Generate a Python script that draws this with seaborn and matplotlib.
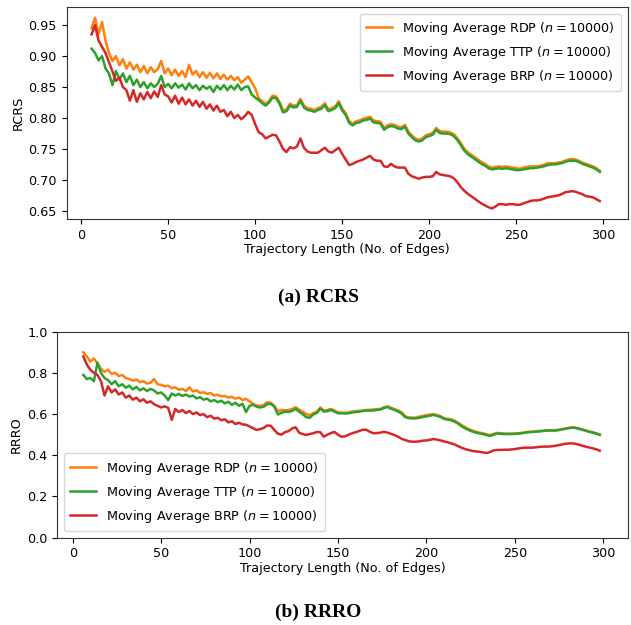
import numpy as np
import pandas as pd
import seaborn as sns
import matplotlib
matplotlib.use("Agg")
import matplotlib.pyplot as plt

# ---------------- data ----------------
x_len = list(range(6, 299, 2))  # trajectory length (no. of edges)

rcrs_rdp = [
    0.945, 0.962, 0.935, 0.955, 0.925, 0.905, 0.892, 0.900, 0.885, 0.895,
    0.880, 0.890, 0.878, 0.886, 0.874, 0.884, 0.872, 0.882, 0.874, 0.879,
    0.892, 0.872, 0.880, 0.869, 0.878, 0.868, 0.876, 0.866, 0.886, 0.870,
    0.876, 0.866, 0.874, 0.865, 0.873, 0.864, 0.872, 0.863, 0.870, 0.862,
    0.868, 0.861, 0.866, 0.857, 0.862, 0.867, 0.858, 0.848, 0.832, 0.827,
    0.823, 0.828, 0.836, 0.835, 0.826, 0.812, 0.814, 0.823, 0.820, 0.821,
    0.831, 0.820, 0.816, 0.815, 0.813, 0.816, 0.818, 0.824, 0.814, 0.816,
    0.819, 0.827, 0.815, 0.808, 0.795, 0.791, 0.795, 0.796, 0.799, 0.800,
    0.802, 0.796, 0.795, 0.794, 0.784, 0.788, 0.790, 0.789, 0.786, 0.785,
    0.789, 0.778, 0.772, 0.767, 0.765, 0.767, 0.772, 0.774, 0.776, 0.784,
    0.779, 0.778, 0.778, 0.777, 0.774, 0.768, 0.760, 0.751, 0.745, 0.741,
    0.737, 0.733, 0.729, 0.726, 0.722, 0.720, 0.721, 0.722, 0.721, 0.722,
    0.721, 0.720, 0.719, 0.718, 0.720, 0.721, 0.722, 0.722, 0.722, 0.723,
    0.725, 0.727, 0.727, 0.727, 0.728, 0.729, 0.731, 0.733, 0.734, 0.733,
    0.731, 0.728, 0.726, 0.724, 0.722, 0.719, 0.715,
]
rcrs_ttp = [
    0.912, 0.905, 0.893, 0.900, 0.880, 0.872, 0.853, 0.876, 0.862, 0.872,
    0.858, 0.868, 0.853, 0.862, 0.850, 0.858, 0.848, 0.856, 0.850, 0.855,
    0.868, 0.850, 0.855, 0.848, 0.856, 0.849, 0.854, 0.846, 0.856, 0.848,
    0.853, 0.845, 0.852, 0.847, 0.851, 0.842, 0.852, 0.846, 0.853, 0.845,
    0.852, 0.846, 0.854, 0.845, 0.850, 0.851, 0.838, 0.833, 0.829, 0.824,
    0.820, 0.825, 0.833, 0.832, 0.823, 0.809, 0.811, 0.820, 0.817, 0.818,
    0.828, 0.817, 0.813, 0.812, 0.810, 0.813, 0.815, 0.821, 0.811, 0.813,
    0.816, 0.824, 0.812, 0.805, 0.792, 0.788, 0.792, 0.793, 0.796, 0.797,
    0.799, 0.793, 0.792, 0.791, 0.781, 0.785, 0.787, 0.786, 0.783, 0.782,
    0.786, 0.775, 0.769, 0.764, 0.762, 0.764, 0.769, 0.771, 0.773, 0.781,
    0.776, 0.775, 0.775, 0.774, 0.771, 0.765, 0.757, 0.748, 0.742, 0.738,
    0.734, 0.730, 0.726, 0.723, 0.719, 0.717, 0.718, 0.719, 0.718, 0.719,
    0.718, 0.717, 0.716, 0.716, 0.717, 0.718, 0.719, 0.719, 0.720, 0.721,
    0.722, 0.724, 0.725, 0.725, 0.726, 0.727, 0.729, 0.731, 0.731, 0.731,
    0.729, 0.726, 0.724, 0.722, 0.720, 0.717, 0.713,
]
rcrs_brp = [
    0.935, 0.950, 0.925, 0.915, 0.905, 0.890, 0.875, 0.860, 0.865, 0.850,
    0.845, 0.828, 0.845, 0.826, 0.840, 0.830, 0.842, 0.832, 0.843, 0.834,
    0.853, 0.838, 0.835, 0.825, 0.836, 0.823, 0.833, 0.822, 0.830, 0.820,
    0.828, 0.818, 0.826, 0.815, 0.822, 0.812, 0.820, 0.810, 0.813, 0.803,
    0.810, 0.800, 0.805, 0.798, 0.803, 0.810, 0.805, 0.790, 0.777, 0.774,
    0.767, 0.770, 0.773, 0.772, 0.762, 0.750, 0.745, 0.753, 0.751, 0.754,
    0.767, 0.752, 0.746, 0.744, 0.744, 0.744, 0.748, 0.752, 0.746, 0.744,
    0.748, 0.752, 0.742, 0.733, 0.724, 0.726, 0.729, 0.731, 0.733, 0.736,
    0.739, 0.733, 0.731, 0.731, 0.722, 0.721, 0.726, 0.722, 0.720, 0.720,
    0.720, 0.710, 0.706, 0.704, 0.702, 0.704, 0.705, 0.705, 0.706, 0.713,
    0.709, 0.708, 0.707, 0.706, 0.703, 0.697, 0.689, 0.683, 0.678, 0.674,
    0.670, 0.666, 0.662, 0.659, 0.656, 0.654, 0.657, 0.661, 0.661, 0.660,
    0.661, 0.661, 0.660, 0.660, 0.662, 0.664, 0.666, 0.667, 0.667, 0.668,
    0.670, 0.672, 0.673, 0.674, 0.675, 0.677, 0.680, 0.681, 0.682, 0.681,
    0.679, 0.677, 0.674, 0.673, 0.672, 0.669, 0.666,
]

rrro_rdp = [
    0.900, 0.880, 0.855, 0.870, 0.845, 0.820, 0.805, 0.815, 0.795, 0.800,
    0.785, 0.790, 0.775, 0.770, 0.762, 0.768, 0.755, 0.760, 0.748, 0.752,
    0.770, 0.745, 0.742, 0.735, 0.738, 0.726, 0.730, 0.718, 0.722, 0.712,
    0.730, 0.710, 0.715, 0.702, 0.706, 0.698, 0.702, 0.690, 0.694, 0.686,
    0.688, 0.680, 0.684, 0.675, 0.680, 0.668, 0.674, 0.662, 0.650, 0.642,
    0.640, 0.645, 0.658, 0.655, 0.640, 0.615, 0.620, 0.618, 0.620, 0.625,
    0.633, 0.622, 0.612, 0.600, 0.595, 0.605, 0.612, 0.632, 0.618, 0.620,
    0.625, 0.618, 0.608, 0.607, 0.606, 0.608, 0.612, 0.614, 0.616, 0.618,
    0.620, 0.621, 0.622, 0.624, 0.625, 0.633, 0.638, 0.631, 0.624, 0.618,
    0.608, 0.590, 0.584, 0.583, 0.583, 0.588, 0.591, 0.595, 0.598, 0.600,
    0.596, 0.590, 0.580, 0.577, 0.575, 0.568, 0.557, 0.546, 0.536, 0.527,
    0.520, 0.514, 0.510, 0.507, 0.502, 0.498, 0.504, 0.509, 0.507, 0.506,
    0.505, 0.505, 0.506, 0.507, 0.509, 0.512, 0.514, 0.515, 0.517, 0.518,
    0.519, 0.521, 0.522, 0.522, 0.523, 0.526, 0.529, 0.532, 0.535, 0.535,
    0.531, 0.526, 0.521, 0.516, 0.512, 0.507, 0.501,
]
rrro_ttp = [
    0.790, 0.770, 0.775, 0.760, 0.850, 0.800, 0.775, 0.765, 0.745, 0.760,
    0.735, 0.745, 0.728, 0.738, 0.720, 0.732, 0.715, 0.725, 0.712, 0.722,
    0.715, 0.700, 0.705, 0.690, 0.668, 0.700, 0.690, 0.698, 0.688, 0.695,
    0.685, 0.690, 0.676, 0.682, 0.670, 0.675, 0.662, 0.668, 0.658, 0.665,
    0.652, 0.660, 0.645, 0.655, 0.640, 0.650, 0.610, 0.640, 0.645, 0.636,
    0.632, 0.636, 0.648, 0.650, 0.636, 0.598, 0.606, 0.612, 0.610, 0.615,
    0.626, 0.612, 0.600, 0.585, 0.582, 0.598, 0.605, 0.627, 0.612, 0.614,
    0.620, 0.612, 0.604, 0.604, 0.603, 0.604, 0.608, 0.610, 0.612, 0.615,
    0.617, 0.617, 0.618, 0.620, 0.622, 0.630, 0.634, 0.626, 0.620, 0.612,
    0.603, 0.585, 0.580, 0.579, 0.579, 0.582, 0.586, 0.589, 0.592, 0.596,
    0.591, 0.586, 0.576, 0.573, 0.570, 0.563, 0.553, 0.540, 0.530, 0.522,
    0.515, 0.510, 0.506, 0.503, 0.498, 0.494, 0.500, 0.506, 0.504, 0.503,
    0.503, 0.503, 0.504, 0.505, 0.507, 0.510, 0.512, 0.513, 0.515, 0.516,
    0.518, 0.520, 0.520, 0.520, 0.521, 0.524, 0.528, 0.531, 0.534, 0.533,
    0.529, 0.524, 0.519, 0.514, 0.510, 0.505, 0.499,
]
rrro_brp = [
    0.880, 0.840, 0.815, 0.800, 0.790, 0.760, 0.690, 0.735, 0.705, 0.720,
    0.695, 0.705, 0.680, 0.690, 0.670, 0.680, 0.662, 0.672, 0.655, 0.662,
    0.648, 0.640, 0.632, 0.638, 0.630, 0.572, 0.625, 0.610, 0.620, 0.605,
    0.615, 0.600, 0.608, 0.595, 0.600, 0.585, 0.592, 0.578, 0.582, 0.570,
    0.575, 0.560, 0.565, 0.552, 0.558, 0.550, 0.548, 0.540, 0.531, 0.523,
    0.527, 0.533, 0.545, 0.543, 0.523, 0.505, 0.500, 0.512, 0.517, 0.530,
    0.536, 0.510, 0.503, 0.499, 0.503, 0.507, 0.513, 0.512, 0.490, 0.500,
    0.508, 0.513, 0.500, 0.490, 0.492, 0.500, 0.507, 0.512, 0.518, 0.524,
    0.524, 0.514, 0.507, 0.508, 0.510, 0.514, 0.510, 0.504, 0.498, 0.490,
    0.480, 0.474, 0.468, 0.466, 0.466, 0.468, 0.471, 0.472, 0.475, 0.479,
    0.476, 0.472, 0.467, 0.463, 0.458, 0.452, 0.444, 0.436, 0.430, 0.425,
    0.421, 0.419, 0.417, 0.414, 0.411, 0.416, 0.424, 0.426, 0.426, 0.427,
    0.427, 0.428, 0.430, 0.433, 0.436, 0.437, 0.437, 0.437, 0.439, 0.441,
    0.442, 0.442, 0.443, 0.445, 0.448, 0.451, 0.455, 0.457, 0.458, 0.456,
    0.452, 0.447, 0.442, 0.438, 0.434, 0.429, 0.422,
]

methods = ["RDP", "TTP", "BRP"]
labels = [f"Moving Average {m} ($n = 10000$)" for m in methods]
colors = ["#ff7f0e", "#2ca02c", "#d62728"]
captions = ["(a) RCRS", "(b) RRRO"]
ylabels = ["RCRS", "RRRO"]
xlabel = "Trajectory Length (No. of Edges)"


def long_df(series):
    frames = []
    for lab, vals in zip(labels, series):
        frames.append(pd.DataFrame({"x": x_len, "y": vals, "series": lab}))
    return pd.concat(frames, ignore_index=True)


df_top = long_df([rcrs_rdp, rcrs_ttp, rcrs_brp])
df_bot = long_df([rrro_rdp, rrro_ttp, rrro_brp])

# ---------------- figure ----------------
plt.rcParams["font.family"] = ["DejaVu Sans"]
plt.rcParams["mathtext.fontset"] = "dejavusans"
FS = 9.2

fig = plt.figure(figsize=(6.31, 6.25), dpi=100)
ax1 = fig.add_axes([0.1057, 0.6496, 0.889, 0.339])
ax2 = fig.add_axes([0.0911, 0.1397, 0.904, 0.3296])

pal = dict(zip(labels, colors))
sns.lineplot(data=df_top, x="x", y="y", hue="series", palette=pal,
             hue_order=labels, ax=ax1, linewidth=1.8, estimator=None)
sns.lineplot(data=df_bot, x="x", y="y", hue="series", palette=pal,
             hue_order=labels, ax=ax2, linewidth=1.8, estimator=None)

ax1.set_xlim(-8.3, 314.0)
ax1.set_ylim(0.637, 0.979)
ax1.set_yticks([0.65, 0.70, 0.75, 0.80, 0.85, 0.90, 0.95])
ax2.set_xlim(-8.6, 313.9)
ax2.set_ylim(0.0, 1.0)
ax2.set_yticks([0.0, 0.2, 0.4, 0.6, 0.8, 1.0])

for ax, yl, loc in [(ax1, ylabels[0], "upper right"), (ax2, ylabels[1], "lower left")]:
    ax.set_xticks([0, 50, 100, 150, 200, 250, 300])
    ax.set_xlabel(xlabel, fontsize=FS, labelpad=1)
    ax.set_ylabel(yl, fontsize=FS, labelpad=3)
    ax.tick_params(labelsize=FS, length=3.5, width=0.8)
    for s in ax.spines.values():
        s.set_linewidth(0.8)
        s.set_color("#333333")
    leg = ax.legend(loc=loc, fontsize=FS, frameon=True, handlelength=2.0,
                    borderpad=0.5, labelspacing=0.55)
    leg.get_frame().set_edgecolor("#cccccc")
    for h in leg.get_lines():
        h.set_linewidth(1.8)

fig.text(0.505, 0.525, captions[0], ha="center", va="center",
         fontsize=14, fontweight="bold", family=["Liberation Serif", "DejaVu Serif"])
fig.text(0.505, 0.021, captions[1], ha="center", va="center",
         fontsize=14, fontweight="bold", family=["Liberation Serif", "DejaVu Serif"])

fig.savefig("out.png", dpi=100)
